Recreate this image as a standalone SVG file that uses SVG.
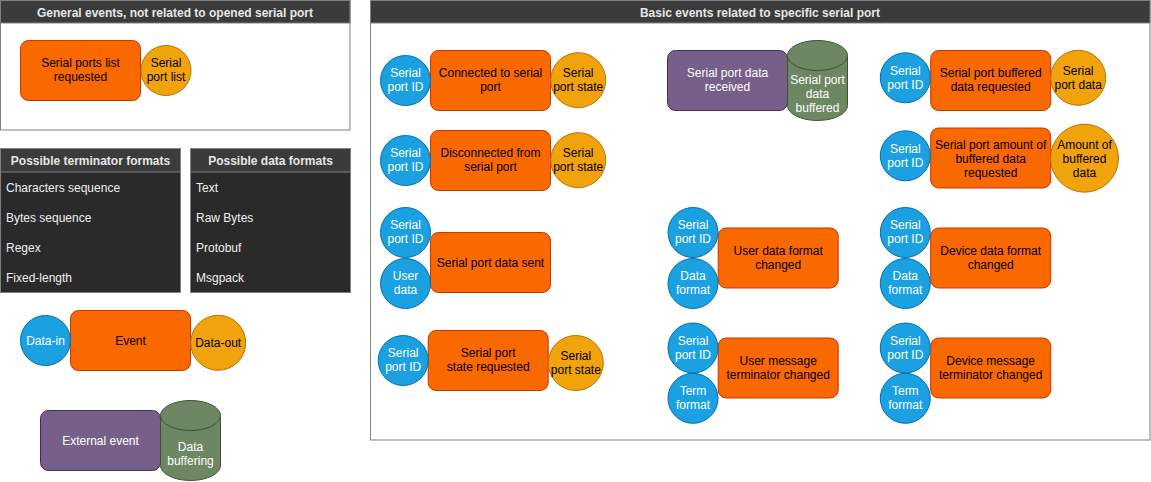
<svg xmlns="http://www.w3.org/2000/svg" width="1151" height="482" viewBox="0 0 1151 482">
<style>
text{font-family:"Liberation Sans",Arial,Helvetica,sans-serif;font-size:12px;text-anchor:middle}
.hdr{font-weight:bold;fill:#e6e6e6}
.panel{fill:#ffffff;stroke:#808080;stroke-width:1}
.hbar{fill:#3b3b3b;stroke:#808080;stroke-width:1}
.ev{fill:#fa6800;stroke:#c73500;stroke-width:1}
.out{fill:#f0a30a;stroke:#bd7000;stroke-width:1}
.in{fill:#1ba1e2;stroke:#006eaf;stroke-width:1}
.ext{fill:#76608a;stroke:#432d57;stroke-width:1}
.buf{fill:#6d8764;stroke:#3a5431;stroke-width:1}
.tbody{fill:#2a2a2a;stroke:#808080;stroke-width:1}
.thead{fill:#3b3b3b;stroke:#808080;stroke-width:1}
.dk{fill:#000000}
.wt{fill:#ffffff}
.row{fill:#f0f0f0;text-anchor:start}
</style>
<g id="connectors"></g>

<!-- Left panel -->
<g id="panel-general">
<rect class="panel" x="0.5" y="0.5" width="349.5" height="129.5"/>
<rect class="hbar" x="0.5" y="0.5" width="349.5" height="22.5"/>
<text class="hdr" x="175" y="16.5">General events, not related to opened serial port</text>
</g>
<g id="n-list-req">
<rect class="ev" x="20.5" y="40.5" width="120" height="60" rx="8"/>
<text class="dk" x="80.5" y="67">Serial ports list</text>
<text class="dk" x="80.5" y="81">requested</text>
</g>
<g id="n-list-out">
<circle class="out" cx="166" cy="70.5" r="25"/>
<text class="dk" x="166" y="67">Serial</text>
<text class="dk" x="166" y="81">port list</text>
</g>

<!-- Tables -->
<g id="table-term">
<rect class="tbody" x="0.5" y="148.5" width="180" height="144"/>
<rect class="thead" x="0.5" y="148.5" width="180" height="23.5"/>
<text class="hdr" x="90.5" y="165">Possible terminator formats</text>
<text class="row" x="6" y="192">Characters sequence</text>
<text class="row" x="6" y="222">Bytes sequence</text>
<text class="row" x="6" y="252">Regex</text>
<text class="row" x="6" y="282">Fixed-length</text>
</g>
<g id="table-data">
<rect class="tbody" x="190.5" y="148.5" width="160" height="144"/>
<rect class="thead" x="190.5" y="148.5" width="160" height="23.5"/>
<text class="hdr" x="270.5" y="165">Possible data formats</text>
<text class="row" x="196" y="192">Text</text>
<text class="row" x="196" y="222">Raw Bytes</text>
<text class="row" x="196" y="252">Protobuf</text>
<text class="row" x="196" y="282">Msgpack</text>
</g>

<!-- Legend -->
<g id="legend-event">
<rect class="ev" x="70.5" y="310.5" width="120" height="60" rx="8"/>
<text class="dk" x="130.5" y="345">Event</text>
</g>
<g id="legend-in">
<circle class="in" cx="45.5" cy="340.5" r="25"/>
<text class="wt" x="45.5" y="345">Data-in</text>
</g>
<g id="legend-out">
<circle class="out" cx="218.2" cy="342.8" r="27.5"/>
<text class="dk" x="218.2" y="347">Data-out</text>
</g>
<g id="legend-ext">
<rect class="ext" x="40.5" y="410.5" width="120" height="60" rx="8"/>
<text class="wt" x="100.5" y="445">External event</text>
</g>
<g id="legend-buf">
<path class="buf" d="M160.5 415.5 A30 15 0 0 1 220.5 415.5 L220.5 465.5 A30 15 0 0 1 160.5 465.5 Z"/>
<path class="buf" d="M160.5 415.5 A30 15 0 0 0 220.5 415.5" fill="none"/>
<text class="wt" x="190.5" y="451">Data</text>
<text class="wt" x="190.5" y="465">buffering</text>
</g>

<!-- Right panel -->
<g id="panel-basic">
<rect class="panel" x="370.5" y="0.5" width="779.5" height="439.5"/>
<rect class="hbar" x="370.5" y="0.5" width="779.5" height="22.5"/>
<text class="hdr" x="760" y="16.5">Basic events related to specific serial port</text>
</g>

<!-- Connected -->
<g id="n-connected">
<rect class="ev" x="430.5" y="50.5" width="120" height="60" rx="8"/>
<text class="dk" x="490.5" y="77">Connected to serial</text>
<text class="dk" x="490.5" y="91">port</text>
</g>
<g id="n-connected-id">
<circle class="in" cx="405.5" cy="80.5" r="25"/>
<text class="wt" x="405.5" y="77">Serial</text>
<text class="wt" x="405.5" y="91">port ID</text>
</g>
<g id="n-connected-state">
<circle class="out" cx="578.2" cy="80.2" r="27.5"/>
<text class="dk" x="578.2" y="77">Serial</text>
<text class="dk" x="578.2" y="91">port state</text>
</g>

<!-- Disconnected -->
<g id="n-disconnected">
<rect class="ev" x="430.5" y="130.5" width="120" height="60" rx="8"/>
<text class="dk" x="490.5" y="157">Disconnected from</text>
<text class="dk" x="490.5" y="171">serial port</text>
</g>
<g id="n-disconnected-id">
<circle class="in" cx="405.5" cy="160.5" r="25"/>
<text class="wt" x="405.5" y="157">Serial</text>
<text class="wt" x="405.5" y="171">port ID</text>
</g>
<g id="n-disconnected-state">
<circle class="out" cx="578.2" cy="160.2" r="27.5"/>
<text class="dk" x="578.2" y="157">Serial</text>
<text class="dk" x="578.2" y="171">port state</text>
</g>

<!-- Data sent -->
<g id="n-sent">
<rect class="ev" x="430.5" y="232.5" width="120" height="60" rx="8"/>
<text class="dk" x="490.5" y="267">Serial port data sent</text>
</g>
<g id="n-sent-id">
<circle class="in" cx="405.5" cy="232.5" r="25"/>
<text class="wt" x="405.5" y="229">Serial</text>
<text class="wt" x="405.5" y="243">port ID</text>
</g>
<g id="n-sent-data">
<circle class="in" cx="405.5" cy="283.5" r="25"/>
<text class="wt" x="405.5" y="280">User</text>
<text class="wt" x="405.5" y="294">data</text>
</g>

<!-- State requested -->
<g id="n-state-req">
<rect class="ev" x="428.2" y="330.5" width="120" height="60" rx="8"/>
<text class="dk" x="488.2" y="357">Serial port</text>
<text class="dk" x="488.2" y="371">state requested</text>
</g>
<g id="n-state-req-id">
<circle class="in" cx="403.2" cy="360.5" r="25"/>
<text class="wt" x="403.2" y="357">Serial</text>
<text class="wt" x="403.2" y="371">port ID</text>
</g>
<g id="n-state-req-out">
<circle class="out" cx="575.8" cy="363" r="27.5"/>
<text class="dk" x="575.8" y="360">Serial</text>
<text class="dk" x="575.8" y="374">port state</text>
</g>

<!-- Data received -->
<g id="n-received">
<rect class="ext" x="667.5" y="50.5" width="120" height="60" rx="8"/>
<text class="wt" x="727.5" y="77">Serial port data</text>
<text class="wt" x="727.5" y="91">received</text>
</g>
<g id="n-received-buf">
<path class="buf" d="M787.5 55.5 A30 15 0 0 1 847.5 55.5 L847.5 105.5 A30 15 0 0 1 787.5 105.5 Z"/>
<path class="buf" d="M787.5 55.5 A30 15 0 0 0 847.5 55.5" fill="none"/>
<text class="wt" x="817.5" y="84">Serial port</text>
<text class="wt" x="817.5" y="98">data</text>
<text class="wt" x="817.5" y="112">buffered</text>
</g>

<!-- User data format changed -->
<g id="n-user-fmt">
<rect class="ev" x="718.2" y="228" width="120" height="60" rx="8"/>
<text class="dk" x="778.2" y="255">User data format</text>
<text class="dk" x="778.2" y="269">changed</text>
</g>
<g id="n-user-fmt-id">
<circle class="in" cx="693" cy="232.5" r="25"/>
<text class="wt" x="693" y="229">Serial</text>
<text class="wt" x="693" y="243">port ID</text>
</g>
<g id="n-user-fmt-data">
<circle class="in" cx="693" cy="283.5" r="25"/>
<text class="wt" x="693" y="280">Data</text>
<text class="wt" x="693" y="294">format</text>
</g>

<!-- User message terminator changed -->
<g id="n-user-term">
<rect class="ev" x="718.2" y="338" width="120" height="60" rx="8"/>
<text class="dk" x="778.2" y="365">User message</text>
<text class="dk" x="778.2" y="379">terminator changed</text>
</g>
<g id="n-user-term-id">
<circle class="in" cx="693" cy="348" r="25"/>
<text class="wt" x="693" y="344.5">Serial</text>
<text class="wt" x="693" y="358.5">port ID</text>
</g>
<g id="n-user-term-fmt">
<circle class="in" cx="693" cy="398.3" r="25"/>
<text class="wt" x="693" y="395">Term</text>
<text class="wt" x="693" y="409">format</text>
</g>

<!-- Buffered data requested -->
<g id="n-buf-req">
<rect class="ev" x="930.7" y="50.5" width="120" height="60" rx="8"/>
<text class="dk" x="990.7" y="77">Serial port buffered</text>
<text class="dk" x="990.7" y="91">data requested</text>
</g>
<g id="n-buf-req-id">
<circle class="in" cx="905.3" cy="77.8" r="25"/>
<text class="wt" x="905.3" y="74.5">Serial</text>
<text class="wt" x="905.3" y="88.5">port ID</text>
</g>
<g id="n-buf-req-out">
<circle class="out" cx="1078.2" cy="77.8" r="27.5"/>
<text class="dk" x="1078.2" y="74.5">Serial</text>
<text class="dk" x="1078.2" y="88.5">port data</text>
</g>

<!-- Amount requested -->
<g id="n-amt-req">
<rect class="ev" x="930.7" y="128" width="120" height="60" rx="8"/>
<text class="dk" x="990.7" y="149">Serial port amount of</text>
<text class="dk" x="990.7" y="163">buffered data</text>
<text class="dk" x="990.7" y="177">requested</text>
</g>
<g id="n-amt-req-id">
<circle class="in" cx="905.3" cy="155.8" r="25"/>
<text class="wt" x="905.3" y="152.5">Serial</text>
<text class="wt" x="905.3" y="166.5">port ID</text>
</g>
<g id="n-amt-req-out">
<circle class="out" cx="1084.5" cy="158.2" r="34"/>
<text class="dk" x="1084.5" y="149">Amount of</text>
<text class="dk" x="1084.5" y="163">buffered</text>
<text class="dk" x="1084.5" y="177">data</text>
</g>

<!-- Device data format changed -->
<g id="n-dev-fmt">
<rect class="ev" x="930.7" y="228" width="120" height="60" rx="8"/>
<text class="dk" x="990.7" y="255">Device data format</text>
<text class="dk" x="990.7" y="269">changed</text>
</g>
<g id="n-dev-fmt-id">
<circle class="in" cx="905.3" cy="232.5" r="25"/>
<text class="wt" x="905.3" y="229">Serial</text>
<text class="wt" x="905.3" y="243">port ID</text>
</g>
<g id="n-dev-fmt-data">
<circle class="in" cx="905.3" cy="283.5" r="25"/>
<text class="wt" x="905.3" y="280">Data</text>
<text class="wt" x="905.3" y="294">format</text>
</g>

<!-- Device message terminator changed -->
<g id="n-dev-term">
<rect class="ev" x="930.7" y="338" width="120" height="60" rx="8"/>
<text class="dk" x="990.7" y="365">Device message</text>
<text class="dk" x="990.7" y="379">terminator changed</text>
</g>
<g id="n-dev-term-id">
<circle class="in" cx="905.3" cy="348" r="25"/>
<text class="wt" x="905.3" y="344.5">Serial</text>
<text class="wt" x="905.3" y="358.5">port ID</text>
</g>
<g id="n-dev-term-fmt">
<circle class="in" cx="905.3" cy="398.3" r="25"/>
<text class="wt" x="905.3" y="395">Term</text>
<text class="wt" x="905.3" y="409">format</text>
</g>
</svg>
